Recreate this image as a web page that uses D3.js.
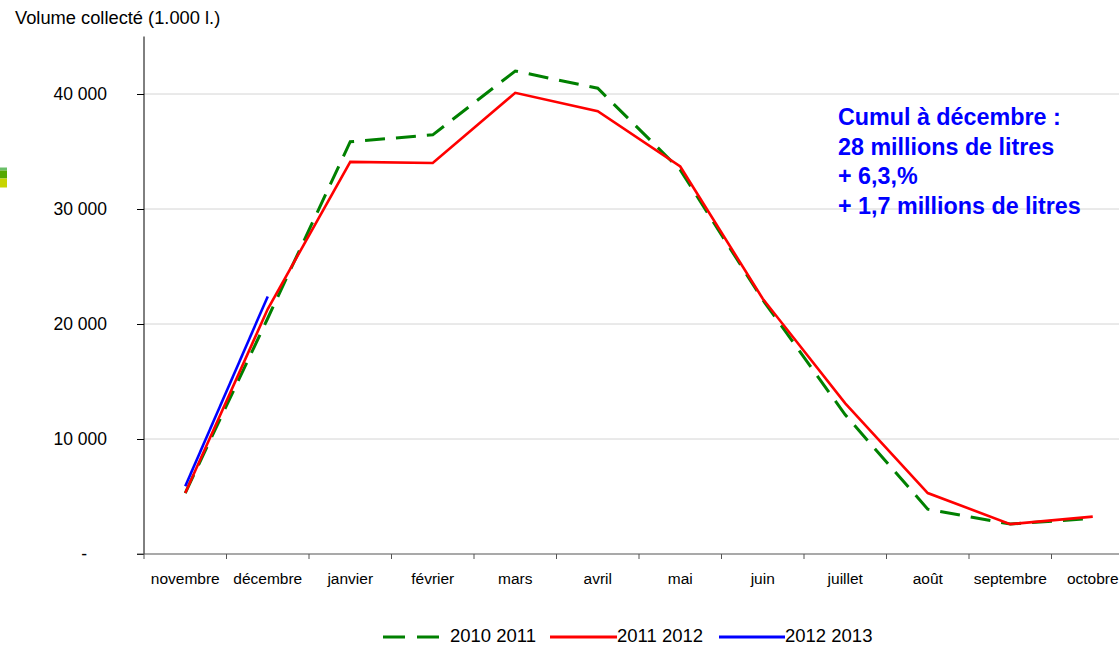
<!DOCTYPE html>
<html>
<head>
<meta charset="utf-8">
<script src="https://cdn.jsdelivr.net/npm/d3@7"></script>
<style>
  body { margin: 0; background: #fff; }
  svg { display: block; font-family: "Liberation Sans", Arial, sans-serif; }
</style>
</head>
<body>
<div id="chart"></div>
<script>
const months = ["novembre", "décembre", "janvier", "février", "mars", "avril", "mai", "juin", "juillet", "août", "septembre", "octobre"];
const campaign1 = [5300, 20500, 35850, 36450, 42000, 40500, 33400, 22100, 12100, 3900, 2600, 3100]; // 2010 2011
const campaign2 = [5300, 21300, 34100, 34000, 40100, 38500, 33700, 22200, 13100, 5300, 2600, 3250]; // 2011 2012
const campaign3 = [5900, 22400]; // 2012 2013
const yTicks = [0, 10000, 20000, 30000, 40000];
const seriesNames = ["2010 2011", "2011 2012", "2012 2013"];
const noteLines = ["Cumul à décembre :", "28 millions de litres", "+ 6,3,%", "+ 1,7 millions de litres"];

const width = 1119, height = 646;
const svg = d3.select("#chart").append("svg")
  .attr("width", width).attr("height", height);

const x = d3.scaleBand().domain(months).range([144, 1134]).padding(0);
const y = d3.scaleLinear().domain([0, 45000]).range([554, 36.5]);
const cx = (m) => x(m) + x.bandwidth() / 2;

// little coloured marks on the left edge
[["#6abf69", 167.5, 3], ["#55a800", 170.5, 8], ["#c8d400", 178.5, 9]].forEach(([c, yy, h]) => {
  svg.append("rect").attr("x", 0).attr("y", yy).attr("width", 7).attr("height", h).attr("fill", c);
});

// grid
svg.append("g").selectAll("line")
  .data(yTicks.filter((d) => d > 0))
  .join("line")
  .attr("x1", 144).attr("x2", width)
  .attr("y1", (d) => y(d)).attr("y2", (d) => y(d))
  .attr("stroke", "#d4d4d4").attr("stroke-width", 1);

// y axis
const yAxis = svg.append("g")
  .attr("transform", "translate(144,0)")
  .call(d3.axisLeft(y).tickValues(yTicks).tickSize(7).tickPadding(30)
    .tickFormat((d) => d === 0 ? "-" : d3.format(",")(d).replace(/,/g, " ")));
yAxis.select(".domain").attr("d", `M0,${y(45000)}V${y(0)}`).attr("stroke", "#000");
yAxis.selectAll(".tick line").attr("stroke", "#000");
yAxis.selectAll(".tick text").attr("font-size", 17.5).attr("fill", "#000")
  .attr("font-family", "Liberation Sans, Arial, sans-serif");
yAxis.selectAll(".tick text").filter((d) => d === 0).attr("x", -57);

// x axis
svg.append("line").attr("x1", 137).attr("x2", width)
  .attr("y1", y(0)).attr("y2", y(0)).attr("stroke", "#555").attr("stroke-width", 1.2);
svg.append("g").selectAll("line")
  .data(months.concat(["end"]))
  .join("line")
  .attr("x1", (d, i) => i < months.length ? x(d) : x(months[months.length - 1]) + x.bandwidth())
  .attr("x2", (d, i) => i < months.length ? x(d) : x(months[months.length - 1]) + x.bandwidth())
  .attr("y1", y(0)).attr("y2", y(0) + 5)
  .attr("stroke", "#555");
svg.append("g").selectAll("text")
  .data(months)
  .join("text")
  .attr("x", (d) => cx(d)).attr("y", 584)
  .attr("text-anchor", "middle").attr("font-size", 15.5).attr("fill", "#000")
  .text((d) => d);

// title
svg.append("text").attr("x", 15).attr("y", 24).attr("font-size", 18.3).attr("fill", "#000")
  .text("Volume collecté (1.000 l.)");

// lines
const line = d3.line().x((d, i) => cx(months[i])).y((d) => y(d));
svg.append("path").datum(campaign1).attr("d", line)
  .attr("fill", "none").attr("stroke", "#008000").attr("stroke-width", 3)
  .attr("stroke-dasharray", "20,11");
svg.append("path").datum(campaign2).attr("d", line)
  .attr("fill", "none").attr("stroke", "#ff0000").attr("stroke-width", 2.6);
svg.append("path").datum(campaign3).attr("d", line)
  .attr("fill", "none").attr("stroke", "#0000ff").attr("stroke-width", 2.6);

// annotation
svg.append("g").selectAll("text")
  .data(noteLines)
  .join("text")
  .attr("x", 838).attr("y", (d, i) => 125 + i * 29.5)
  .attr("font-size", 23.3).attr("font-weight", "bold").attr("fill", "#0000ff")
  .text((d) => d);

// legend
const lg = svg.append("g");
lg.append("line").attr("x1", 383).attr("x2", 439).attr("y1", 637).attr("y2", 637)
  .attr("stroke", "#008000").attr("stroke-width", 3).attr("stroke-dasharray", "22,12");
lg.append("line").attr("x1", 550).attr("x2", 617).attr("y1", 637).attr("y2", 637)
  .attr("stroke", "#ff0000").attr("stroke-width", 3);
lg.append("line").attr("x1", 719).attr("x2", 785).attr("y1", 637).attr("y2", 637)
  .attr("stroke", "#0000ff").attr("stroke-width", 3);
[[450, 0], [617, 1], [785, 2]].forEach(([lx, i]) => {
  lg.append("text").attr("x", lx).attr("y", 642).attr("font-size", 18.5).attr("fill", "#000")
    .text(seriesNames[i]);
});
</script>
</body>
</html>
